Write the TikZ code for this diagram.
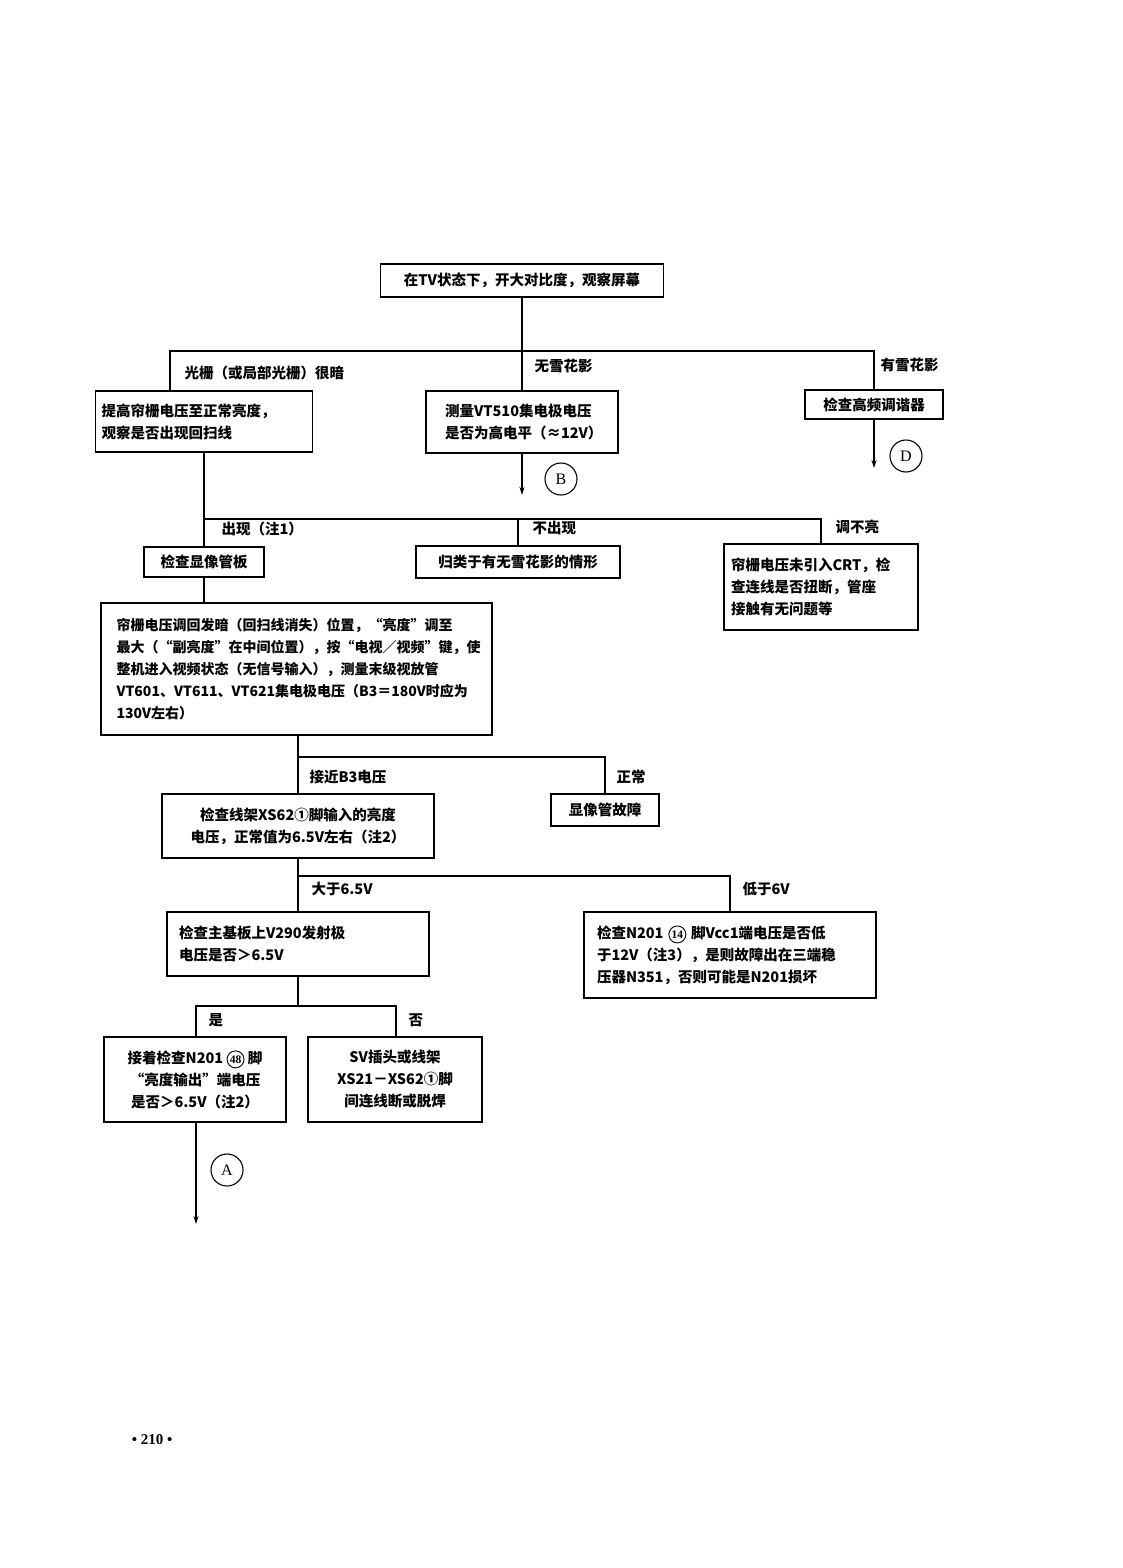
\documentclass[tikz,border=0pt]{standalone}
\usepackage{fontspec}
\setmainfont{Noto Sans CJK SC}
\newfontfamily\numfont{Liberation Serif}
\usetikzlibrary{arrows.meta}
\newcommand{\pinnum}[1]{\tikz[baseline=(p.base)]\node[draw,circle,line width=0.9pt,inner sep=0.3pt,minimum size=17pt,font=\fontsize{11.5}{11.5}\selectfont\numfont\bfseries](p){#1};}
\begin{document}
\begin{tikzpicture}[x=1pt,y=-1pt,line width=1.1pt,
    box/.style={draw,inner sep=0pt,align=center},
    lbl/.style={anchor=west,inner sep=0pt},
    tag/.style={draw,circle,minimum size=32pt,inner sep=0pt,font=\fontsize{16}{16}\selectfont\numfont},
    font=\fontsize{14.5}{22}\selectfont\bfseries]
            \useasboundingbox (0,0) rectangle (1122,1568);
            % first level
            \node[box,minimum width=283,minimum height=33] at (522,280.5)(start){在TV状态下，开大对比度，观察屏幕};
            \node[box,minimum width=217,minimum height=61,text width=205,align=left] at (204,421.5)(dim){提高帘栅电压至正常亮度，\\观察是否出现回扫线};
            \node[box,minimum width=192,minimum height=62,text width=154,align=left] at (522,422)(vt){测量VT510集电极电压\\是否为高电平（≈12V）};
            \node[box,minimum width=138,minimum height=29] at (874,404.5)(tuner){检查高频调谐器};
            \node[tag] at (561,479)(B){B};
            \node[tag] at (906,456)(D){D};
            \coordinate (jl) at (170,351);
            \coordinate (jr) at (874,351);
            \path[draw] (start.south) -- (vt.north);
            \path[draw] (jl |- dim.north) -- (jl) -- (jr) -- (tuner.north);
            \node[lbl] at (184,373)(dark){光栅（或局部光栅）很暗};
            \node[lbl] at (534,366)(nosnow){无雪花影};
            \node[lbl] at (880,365)(snow){有雪花影};
            \coordinate (vtend) at (522,495);
            \coordinate (tunend) at (874,468);
            \path[draw,>={Stealth[length=8pt,width=5pt]},->] (vt.south) -- (vtend);
            \path[draw,>={Stealth[length=8pt,width=5pt]},->] (tuner.south) -- (tunend);
            % second level
            \node[box,minimum width=120,minimum height=30] at (204,562)(board){检查显像管板};
            \node[box,minimum width=204,minimum height=32] at (518,562)(classify){归类于有无雪花影的情形};
            \node[box,minimum width=194,minimum height=86,text width=180,align=left] at (821,587)(crt){帘栅电压未引入CRT，检\\查连线是否扭断，管座\\接触有无问题等};
            \coordinate (kl) at (204,519);
            \coordinate (kr) at (821,519);
            \path[draw] (dim.south) -- (board.north);
            \path[draw] (kl) -- (kr) -- (crt.north);
            \path[draw] (classify.north) -- (classify.north |- kl);
            \node[lbl] at (221,529)(seen){出现（注1）};
            \node[lbl] at (532,528)(unseen){不出现};
            \node[lbl] at (835,527)(nolight){调不亮};
            % video mode
            \node[box,minimum width=391,minimum height=132,text width=360,align=left,font=\fontsize{14}{22}\selectfont\bfseries] at (296.5,669)(big){帘栅电压调回发暗（回扫线消失）位置，“亮度”调至\\最大（“副亮度”在中间位置），按“电视／视频”键，使\\整机进入视频状态（无信号输入），测量末级视放管\\VT601、VT611、VT621集电极电压（B3＝180V时应为\\130V左右）};
            \path[draw] (board.south) -- (board.south |- big.north);
            \node[box,minimum width=272,minimum height=64] at (298,826)(xs62){检查线架XS62①脚输入的亮度\\电压，正常值为6.5V左右（注2）};
            \node[box,minimum width=108,minimum height=32] at (605,810)(tube){显像管故障};
            \coordinate (m) at (298,757);
            \path[draw] (m |- big.south) -- (m) -| (tube.north);
            \path[draw] (m) -- (xs62.north);
            \node[lbl] at (309,777)(nearb){接近B3电压};
            \node[lbl] at (616,777)(normal){正常};
            % luminance voltage
            \node[box,minimum width=262,minimum height=64,text width=238,align=left] at (298,944)(v290){检查主基板上V290发射极\\电压是否＞6.5V};
            \node[box,minimum width=292,minimum height=86,text width=266,align=left] at (730,955)(n201){检查N201 \pinnum{14} 脚Vcc1端电压是否低\\于12V（注3），是则故障出在三端稳\\压器N351，否则可能是N201损坏};
            \coordinate (n) at (298,876);
            \path[draw] (xs62.south) -- (n) -| (n201.north);
            \path[draw] (n) -- (v290.north);
            \node[lbl] at (311,889)(above){大于6.5V};
            \node[lbl] at (742,889)(below){低于6V};
            % last level
            \node[box,minimum width=182,minimum height=85] at (195,1079.5)(n48){接着检查N201 \pinnum{48} 脚\\“亮度输出”端电压\\是否＞6.5V（注2）};
            \node[box,minimum width=174,minimum height=85] at (395,1079.5)(sv){SV插头或线架\\XS21－XS62①脚\\间连线断或脱焊};
            \coordinate (ql) at (196,1006);
            \coordinate (qr) at (396,1006);
            \path[draw] (v290.south) -- (v290.south |- ql);
            \path[draw] (ql |- n48.north) -- (ql) -- (qr) -- (qr |- sv.north);
            \node[lbl] at (208,1020)(yes){是};
            \node[lbl] at (408,1020)(no){否};
            \node[tag] at (227,1170)(A){A};
            \coordinate (aend) at (196,1224);
            \path[draw,>={Stealth[length=8pt,width=5pt]},->] (ql |- n48.south) -- (aend);
            \node[font=\fontsize{15}{15}\selectfont\numfont\bfseries] at (152,1440)(page){• 210 •};
        \end{tikzpicture}
\end{document}
